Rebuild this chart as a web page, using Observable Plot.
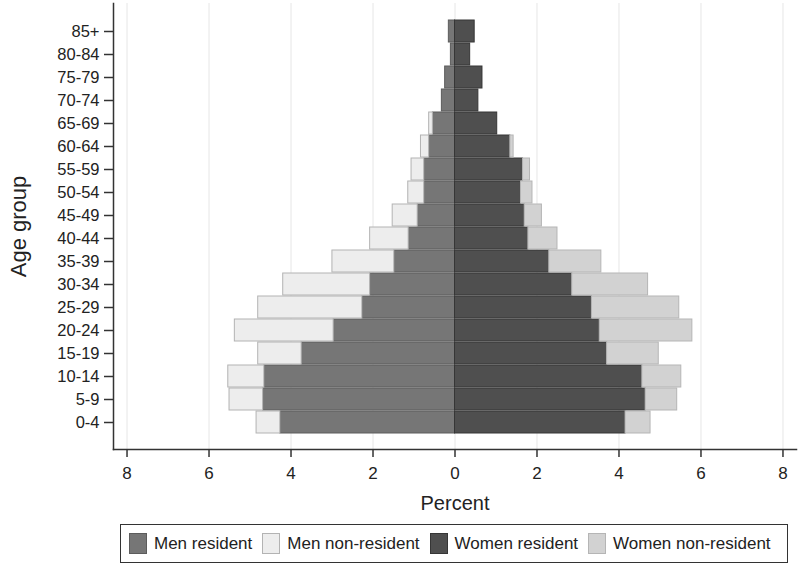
<!DOCTYPE html>
<html>
<head>
<meta charset="utf-8">
<script src="https://cdn.jsdelivr.net/npm/d3@7"></script>
<script src="https://cdn.jsdelivr.net/npm/@observablehq/plot@0.6"></script>
<style>
  body { margin: 0; background: #fff; font-family: "Liberation Sans", Arial, sans-serif; }
  #wrap { position: relative; width: 800px; height: 569px; }
  svg { font-family: "Liberation Sans", Arial, sans-serif; }
  [aria-label="x-axis label"] { font-size: 20px; }
  [aria-label="y-axis label"] { font-size: 22px; }
  #legend {
    position: absolute; left: 120px; top: 524px; width: 668px; height: 39px;
    box-sizing: border-box; border: 1.5px solid #333; display: flex; align-items: center;
    padding-left: 8px; font-size: 17px; color: #222;
  }
  .item { display: flex; align-items: center; margin-right: 10px; }
  .sw { width: 18px; height: 21px; box-sizing: border-box; margin-right: 7px; }
</style>
</head>
<body>
<div id="wrap"><div id="chart"></div><div id="legend"></div></div>
<script>
const ageGroups = ["0-4","5-9","10-14","15-19","20-24","25-29","30-34","35-39","40-44","45-49","50-54","55-59","60-64","65-69","70-74","75-79","80-84","85+"];
const menResident      = [4.26, 4.68, 4.65, 3.74, 2.96, 2.26, 2.07, 1.48, 1.13, 0.91, 0.75, 0.75, 0.63, 0.54, 0.32, 0.24, 0.10, 0.15];
const menNonResident   = [0.58, 0.82, 0.88, 1.06, 2.41, 2.54, 2.12, 1.51, 0.94, 0.61, 0.39, 0.31, 0.20, 0.09, 0, 0, 0, 0];
const womenResident    = [4.16, 4.65, 4.57, 3.71, 3.53, 3.34, 2.86, 2.30, 1.79, 1.70, 1.61, 1.66, 1.35, 1.03, 0.57, 0.67, 0.37, 0.48];
const womenNonResident = [0.61, 0.77, 0.95, 1.26, 2.26, 2.13, 1.85, 1.27, 0.71, 0.42, 0.28, 0.17, 0.08, 0, 0, 0, 0, 0];
const seriesNames  = ["Men resident", "Men non-resident", "Women resident", "Women non-resident"];
const seriesFill   = ["#767676", "#ededed", "#4f4f4f", "#d2d2d2"];
const seriesStroke = ["#5c5c5c", "#b3b3b3", "#363636", "#b5b5b5"];
const xTicks = [-8, -6, -4, -2, 0, 2, 4, 6, 8];
const xDomain = [-8.33, 8.33];

const seriesValues = [menResident, menNonResident, womenResident, womenNonResident];
const seriesSign = [-1, -1, 1, 1];
const rows = [];
seriesNames.forEach((name, s) => {
  ageGroups.forEach((age, i) => {
    rows.push({age, series: name, s, value: seriesSign[s] * seriesValues[s][i]});
  });
});

const chart = Plot.plot({
  width: 800,
  height: 515,
  marginLeft: 113,
  marginRight: 4,
  marginTop: 3,
  marginBottom: 66,
  style: {fontFamily: "Liberation Sans, Arial, sans-serif", color: "#222"},
  x: {domain: xDomain},
  y: {domain: ageGroups.slice().reverse(), paddingInner: 0.05, paddingOuter: 0.68},
  color: {type: "identity"},
  marks: [
    Plot.gridX(xTicks, {stroke: "#e6e6e6", strokeOpacity: 1, strokeWidth: 1}),
    Plot.barX(rows, Plot.stackX({
      y: "age", x: "value", z: "series", order: seriesNames,
      fill: d => seriesFill[d.s], stroke: d => seriesStroke[d.s], strokeWidth: 1
    })),
    Plot.frame({anchor: "left", stroke: "#333", strokeWidth: 1.5}),
    Plot.frame({anchor: "bottom", stroke: "#333", strokeWidth: 1.5}),
    Plot.axisY({tickSize: 9, tickPadding: 5, fontSize: 16.5, label: "Age group", labelArrow: "none", labelAnchor: "center", labelOffset: 103, stroke: "#333", strokeWidth: 1.5}),
    Plot.axisX({ticks: xTicks, tickFormat: d => Math.abs(d), tickSize: 8, tickPadding: 9, fontSize: 17, label: "Percent", labelArrow: "none", labelAnchor: "center", labelOffset: 60, stroke: "#333", strokeWidth: 1.5})
  ]
});
document.getElementById("chart").appendChild(chart);

const legend = document.getElementById("legend");
seriesNames.forEach((name, s) => {
  const item = document.createElement("div");
  item.className = "item";
  const sw = document.createElement("div");
  sw.className = "sw";
  sw.style.background = seriesFill[s];
  sw.style.border = "1px solid " + seriesStroke[s];
  const label = document.createElement("span");
  label.textContent = name;
  item.appendChild(sw);
  item.appendChild(label);
  legend.appendChild(item);
});
</script>
</body>
</html>
